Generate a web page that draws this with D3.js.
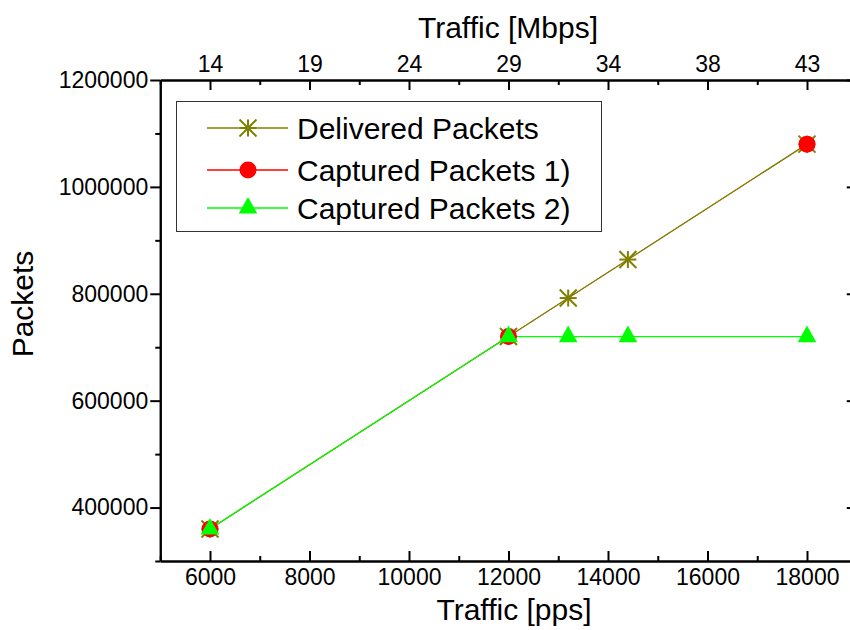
<!DOCTYPE html>
<html>
<head>
<meta charset="utf-8">
<script src="https://cdn.jsdelivr.net/npm/d3@7/dist/d3.min.js"></script>
<style>
  html, body { margin: 0; padding: 0; background: #fff; }
  svg { display: block; }
  text { font-family: "Liberation Sans", Arial, sans-serif; fill: #000; }
</style>
</head>
<body>
<svg id="chart" width="850" height="630"></svg>
<script>
// ---- data ----
const xMajorTicks = [6000, 8000, 10000, 12000, 14000, 16000, 18000];
const xMinorTicks = [5000, 7000, 9000, 11000, 13000, 15000, 17000, 19000];
const mbpsLabels = ["14", "19", "24", "29", "34", "38", "43"];
const yMajorTicks = [400000, 600000, 800000, 1000000, 1200000];
const yMinorTicks = [300000, 500000, 700000, 900000, 1100000];

const deliveredX = [6000, 12000, 13200, 14400, 18000];
const deliveredY = [360000, 720000, 792000, 864000, 1080000];
const captured1X = [6000, 12000, 18000];
const captured1Y = [360000, 720000, 1080000];
const captured2X = [6000, 12000, 13200, 14400, 18000];
const captured2Y = [360000, 720000, 720000, 720000, 720000];

const seriesNames = ["Delivered Packets", "Captured Packets 1)", "Captured Packets 2)"];
const seriesColors = ["#808000", "#ff0000", "#00ff00"];
const seriesSymbols = ["star", "circle", "triangle"];

(function () {
// ---- layout ----
const svg = d3.select("#chart");
const pLeft = 160.25, pRight = 856.75, pTop = 80, pBottom = 561;
const x = d3.scaleLinear().domain([5000, 19000]).range([pLeft, pRight]);
const y = d3.scaleLinear().domain([300000, 1200000]).range([pBottom, pTop]);

const series = [
  {name: seriesNames[0], xs: deliveredX, ys: deliveredY, color: seriesColors[0], sym: seriesSymbols[0], lw: 1.3},
  {name: seriesNames[1], xs: captured1X, ys: captured1Y, color: seriesColors[1], sym: seriesSymbols[1], lw: 0.7},
  {name: seriesNames[2], xs: captured2X, ys: captured2Y, color: seriesColors[2], sym: seriesSymbols[2], lw: 1.3},
];

function drawSymbol(g, sym, color) {
  if (sym === "star") {
    const h = 8.5;
    const segs = [[-h,0,h,0],[0,-h,0,h],[-h,-h,h,h],[-h,h,h,-h]];
    segs.forEach(s => g.append("line")
      .attr("x1", s[0]).attr("y1", s[1]).attr("x2", s[2]).attr("y2", s[3])
      .attr("stroke", color).attr("stroke-width", 2));
  } else if (sym === "circle") {
    g.append("circle").attr("r", 8.5).attr("fill", color);
  } else {
    g.append("path").attr("d", "M0,-11 L9.3,5.6 L-9.3,5.6 Z").attr("fill", color);
  }
}

// lines (drawn in order: red, olive, green)
const lineOrder = [1, 0, 2];
const lineGen = d3.line().x(d => x(d[0])).y(d => y(d[1]));
lineOrder.forEach(i => {
  const s = series[i];
  const pts = s.xs.map((v, k) => [v, s.ys[k]]);
  svg.append("path").attr("d", lineGen(pts))
    .attr("fill", "none").attr("stroke", s.color).attr("stroke-width", s.lw);
});
// markers
series.forEach(s => {
  s.xs.forEach((v, k) => {
    const g = svg.append("g").attr("transform", `translate(${x(v)},${y(s.ys[k])})`);
    drawSymbol(g, s.sym, s.color);
  });
});

// ---- axes ----
function styleAxis(g, fs) {
  g.select(".domain").attr("stroke", "#000").attr("stroke-width", 2);
  g.selectAll(".tick line").attr("stroke", "#000").attr("stroke-width", 2);
  g.selectAll(".tick text").attr("font-size", fs).attr("fill", "#000")
    .attr("font-family", '"Liberation Sans", Arial, sans-serif');
}

// bottom
const gB = svg.append("g").attr("transform", `translate(0,${pBottom})`)
  .call(d3.axisBottom(x).tickValues(xMajorTicks).tickSize(-10).tickSizeOuter(0).tickPadding(8).tickFormat(d3.format("d")));
styleAxis(gB, 23);
const gBm = svg.append("g").attr("transform", `translate(0,${pBottom})`)
  .call(d3.axisBottom(x).tickValues(xMinorTicks).tickSize(-5).tickSizeOuter(0).tickFormat(""));
styleAxis(gBm, 23);

// top
const gT = svg.append("g").attr("transform", `translate(0,${pTop})`)
  .call(d3.axisTop(x).tickValues(xMajorTicks).tickSize(-10).tickSizeOuter(0).tickPadding(8)
    .tickFormat((d, i) => mbpsLabels[i]));
styleAxis(gT, 23);
const gTm = svg.append("g").attr("transform", `translate(0,${pTop})`)
  .call(d3.axisTop(x).tickValues(xMinorTicks).tickSize(-5).tickSizeOuter(0).tickFormat(""));
styleAxis(gTm, 23);

// left
const gL = svg.append("g").attr("transform", `translate(${pLeft},0)`)
  .call(d3.axisLeft(y).tickValues(yMajorTicks).tickSize(10).tickSizeOuter(0).tickPadding(2).tickFormat(d3.format("d")));
styleAxis(gL, 23);
const gLm = svg.append("g").attr("transform", `translate(${pLeft},0)`)
  .call(d3.axisLeft(y).tickValues(yMinorTicks).tickSize(5).tickSizeOuter(0).tickFormat(""));
styleAxis(gLm, 23);

// right
const gR = svg.append("g").attr("transform", `translate(${pRight},0)`)
  .call(d3.axisRight(y).tickValues(yMajorTicks).tickSize(-10).tickSizeOuter(0).tickFormat(""));
styleAxis(gR, 23);
const gRm = svg.append("g").attr("transform", `translate(${pRight},0)`)
  .call(d3.axisRight(y).tickValues(yMinorTicks).tickSize(-5).tickSizeOuter(0).tickFormat(""));
styleAxis(gRm, 23);

// ---- titles ----
svg.append("text").attr("x", 508).attr("y", 38).attr("text-anchor", "middle")
  .attr("font-size", 30).text("Traffic [Mbps]");
svg.append("text").attr("x", 514).attr("y", 620).attr("text-anchor", "middle")
  .attr("font-size", 30).text("Traffic [pps]");
svg.append("text").attr("transform", "translate(33,304) rotate(-90)").attr("text-anchor", "middle")
  .attr("font-size", 30).text("Packets");

// ---- legend ----
const lg = svg.append("g");
lg.append("rect").attr("x", 176.5).attr("y", 101.5).attr("width", 425).attr("height", 130)
  .attr("fill", "#fff").attr("stroke", "#333").attr("stroke-width", 1);
const rowY = [128, 170, 208];
series.forEach((s, i) => {
  lg.append("line").attr("x1", 207).attr("x2", 288).attr("y1", rowY[i]).attr("y2", rowY[i])
    .attr("stroke", s.color).attr("stroke-width", 1.3);
  const g = lg.append("g").attr("transform", `translate(248,${rowY[i]})`);
  drawSymbol(g, s.sym, s.color);
  lg.append("text").attr("x", 297).attr("y", rowY[i] + 11).attr("font-size", 30).text(s.name);
});
})();
</script>
</body>
</html>
